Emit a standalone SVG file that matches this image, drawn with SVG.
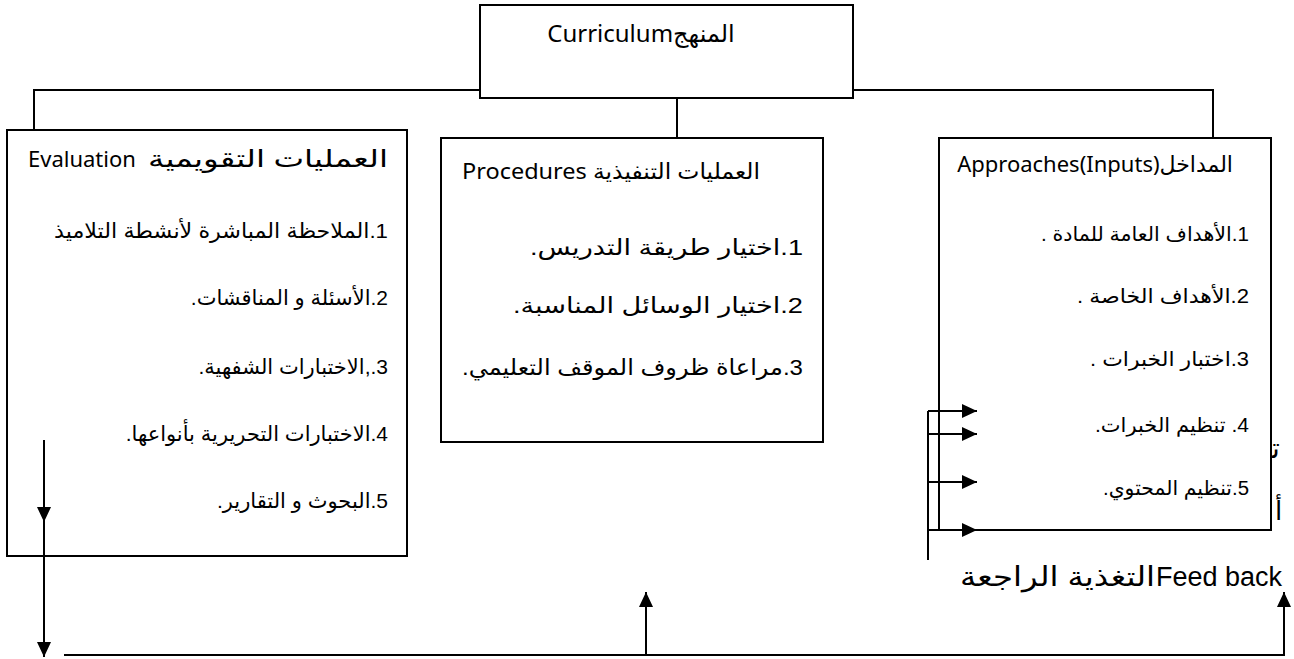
<svg xmlns="http://www.w3.org/2000/svg" width="1294" height="659" viewBox="0 0 1294 659">
<style>
  .box { fill: none; stroke: #000; stroke-width: 2; }
  .ln { fill: none; stroke: #000; stroke-width: 2; }
  .ttl { font-family: "Noto Sans", "DejaVu Sans", sans-serif; font-size: 22px; fill: #000; }
  .itm { font-family: "Liberation Sans", "DejaVu Sans", sans-serif; font-size: 21px; fill: #000; direction: rtl; unicode-bidi: embed; }
  .itm2 { font-family: "Liberation Sans", "DejaVu Sans", sans-serif; font-size: 20px; fill: #000; direction: rtl; unicode-bidi: embed; }
  .itm3 { font-family: "Liberation Sans", "DejaVu Sans", sans-serif; font-size: 22px; fill: #000; direction: rtl; unicode-bidi: embed; }
  .fb { font-family: "Liberation Sans", "DejaVu Sans", sans-serif; font-size: 27px; fill: #000; }
</style>
<defs>
  <marker id="ah" markerUnits="userSpaceOnUse" markerWidth="16" markerHeight="14" refX="15" refY="7" orient="auto">
    <path d="M0,0 L15,7 L0,14 z" fill="#000"/>
  </marker>
</defs>
<rect width="1294" height="659" fill="#fff"/>

<g id="connectors">
  <polyline class="ln" points="480,90 34,90 34,130"/>
  <polyline class="ln" points="853,90 1213,90 1213,138"/>
  <line class="ln" x1="677" y1="98" x2="677" y2="138"/>
  <polyline class="ln" points="44,440 44,522 44,657" marker-mid="url(#ah)" marker-end="url(#ah)"/>
  <line class="ln" x1="64" y1="655" x2="1285" y2="655"/>
  <line class="ln" x1="646" y1="655" x2="646" y2="592" marker-end="url(#ah)"/>
  <line class="ln" x1="1284" y1="655" x2="1284" y2="592" marker-end="url(#ah)"/>
  <line class="ln" x1="928" y1="411" x2="928" y2="560"/>
  <line class="ln" x1="928" y1="411" x2="977" y2="411" marker-end="url(#ah)"/>
  <line class="ln" x1="928" y1="434" x2="977" y2="434" marker-end="url(#ah)"/>
  <line class="ln" x1="928" y1="482" x2="977" y2="482" marker-end="url(#ah)"/>
  <line class="ln" x1="928" y1="530" x2="977" y2="530" marker-end="url(#ah)"/>
</g>

<g id="curriculum">
  <rect class="box" x="480" y="5" width="373" height="93"/>
  <text class="ttl" x="641" y="42" text-anchor="middle" style="font-size:24px">Curriculumالمنهج</text>
</g>

<g id="evaluation">
  <rect class="box" x="7" y="130" width="400" height="426"/>
  <text class="ttl" x="28" y="167">Evaluation</text>
  <text class="ttl" x="388" y="167" text-anchor="end" style="font-size:24px" textLength="240" lengthAdjust="spacingAndGlyphs">العمليات التقويمية</text>
  <text class="itm" x="388" y="238" text-anchor="start" textLength="334" lengthAdjust="spacingAndGlyphs">1.الملاحظة المباشرة لأنشطة التلاميذ</text>
  <text class="itm" x="388" y="305" text-anchor="start">2.الأسئلة و المناقشات.</text>
  <text class="itm" x="388" y="374" text-anchor="start">3.,الاختبارات الشفهية.</text>
  <text class="itm" x="388" y="441" text-anchor="start">4.الاختبارات التحريرية بأنواعها.</text>
  <text class="itm" x="388" y="508" text-anchor="start">5.البحوث و التقارير.</text>
</g>

<g id="procedures">
  <rect class="box" x="441" y="138" width="382" height="304"/>
  <text class="ttl" x="760" y="179" text-anchor="end" textLength="298" lengthAdjust="spacingAndGlyphs">Procedures العمليات التنفيذية</text>
  <text class="itm3" x="803" y="255" text-anchor="start" textLength="273" lengthAdjust="spacingAndGlyphs">1.اختيار طريقة التدريس.</text>
  <text class="itm3" x="803" y="313" text-anchor="start" textLength="290" lengthAdjust="spacingAndGlyphs">2.اختيار الوسائل المناسبة.</text>
  <text class="itm3" x="803" y="375" text-anchor="start" textLength="341" lengthAdjust="spacingAndGlyphs">3.مراعاة ظروف الموقف التعليمي.</text>
</g>

<g id="approaches">
  <rect class="box" x="939" y="138" width="332" height="392"/>
  <text class="ttl" x="1233" y="172" text-anchor="end">Approaches(Inputs)المداخل</text>
  <text class="itm2" x="1249" y="241" text-anchor="start" textLength="208" lengthAdjust="spacingAndGlyphs">1.الأهداف العامة للمادة .</text>
  <text class="itm2" x="1249" y="303" text-anchor="start" textLength="172" lengthAdjust="spacingAndGlyphs">2.الأهداف الخاصة .</text>
  <text class="itm2" x="1249" y="366" text-anchor="start" textLength="159" lengthAdjust="spacingAndGlyphs">3.اختبار الخبرات .</text>
  <text class="itm2" x="1249" y="432" text-anchor="start" textLength="154" lengthAdjust="spacingAndGlyphs">4. تنظيم الخبرات.</text>
  <text class="itm2" x="1249" y="495" text-anchor="start" textLength="146" lengthAdjust="spacingAndGlyphs">5.تنظيم المحتوي.</text>
</g>

<g id="overflow-text">
  <text class="fb" x="1272" y="458" style="font-size:28px">ت&#x200D;</text>
  <text class="fb" x="1275" y="520" style="font-size:26px">أ</text>
</g>

<g id="feedback">
  <text class="fb" x="1155" y="586" text-anchor="end" textLength="195" lengthAdjust="spacingAndGlyphs">التغذية الراجعة</text>
  <text class="fb" x="1156" y="586">Feed back</text>
</g>
</svg>
